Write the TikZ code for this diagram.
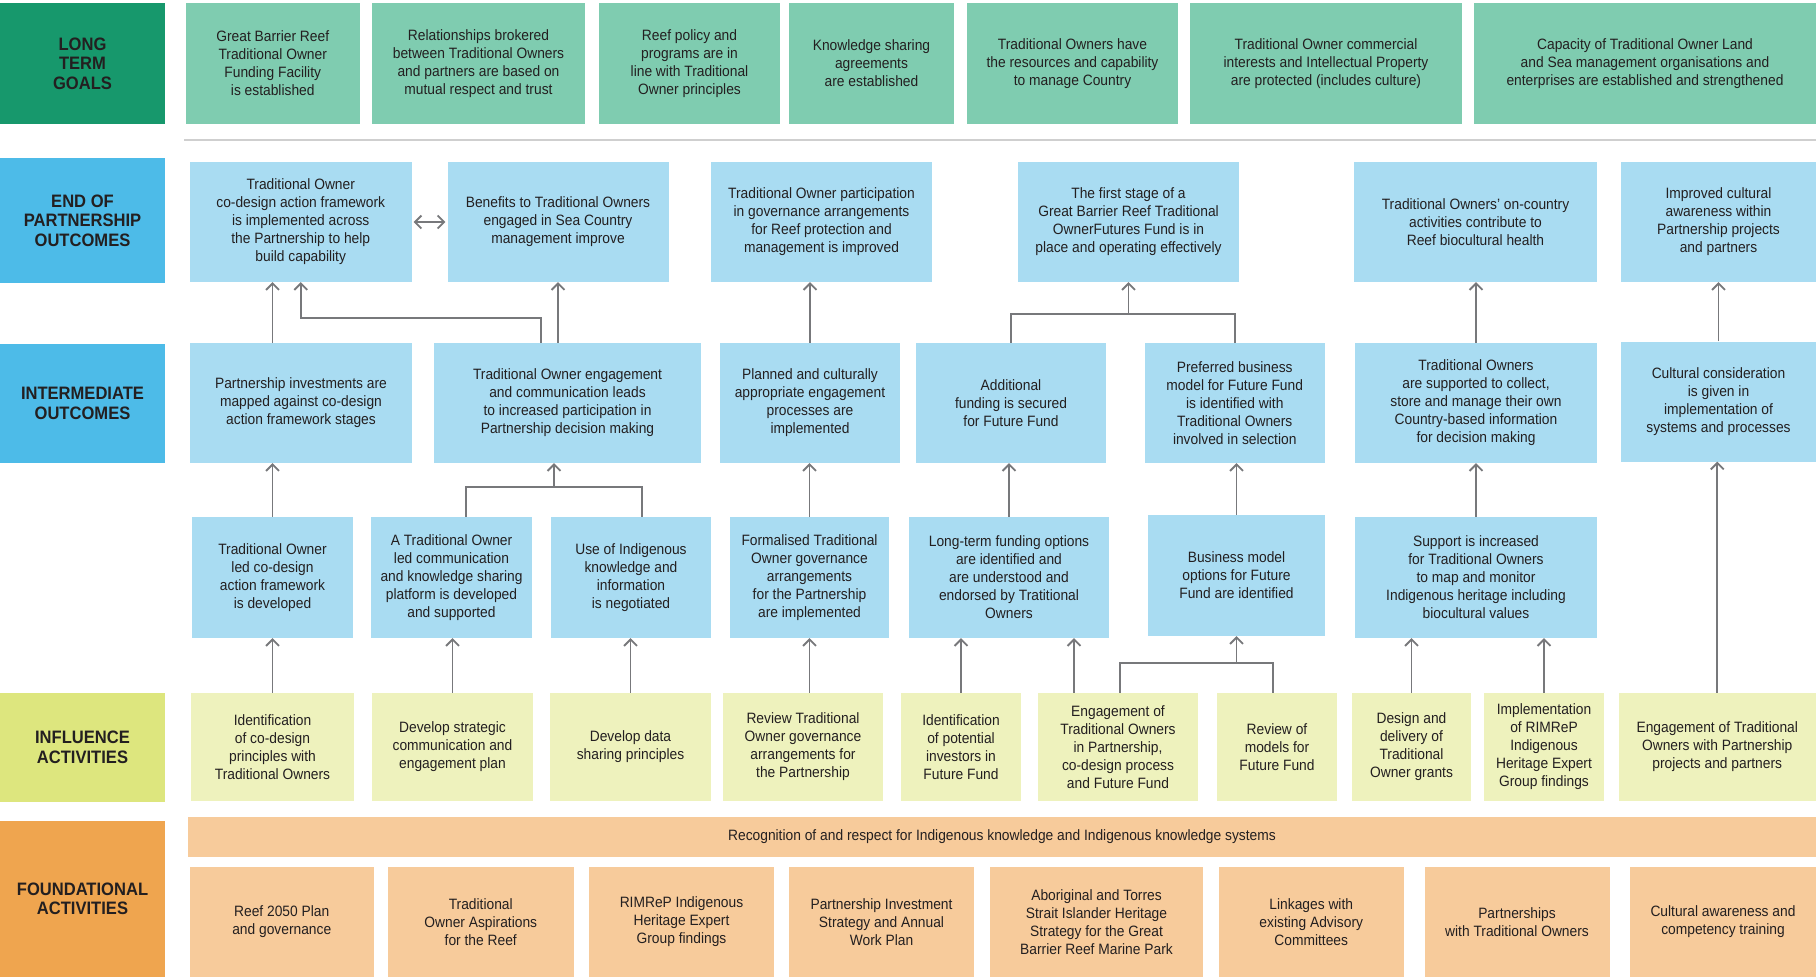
\documentclass[tikz,border=0pt]{standalone}
\usepackage{fontspec}
\setmainfont{Liberation Sans}[FakeStretch=0.92]
\usetikzlibrary{arrows.meta}
\definecolor{goaldark}{HTML}{17986C}
\definecolor{goalgreen}{HTML}{7FCCB0}
\definecolor{labelblue}{HTML}{4DBBE8}
\definecolor{outblue}{HTML}{A9DCF2}
\definecolor{labelyellow}{HTML}{DDE67E}
\definecolor{actyellow}{HTML}{EEF2BD}
\definecolor{labelorange}{HTML}{EFA54F}
\definecolor{foundpeach}{HTML}{F7CB9B}
\definecolor{inkdark}{HTML}{231F20}
\definecolor{linkgray}{HTML}{77787B}
\definecolor{rulegray}{HTML}{CFCFCF}

\begin{document}
\begin{tikzpicture}[x=1pt, y=-1pt,
    box/.style={inner sep=0pt, align=center, text=inkdark, font=\fontsize{15}{18}\selectfont},
    rowlabel/.style={box, minimum width=165pt, font=\bfseries\fontsize{18}{19.5}\selectfont},
    goal/.style={box, fill=goalgreen, minimum height=121pt},
    endout/.style={box, fill=outblue, minimum height=120pt},
    midout/.style={box, fill=outblue, minimum height=120pt},
    early/.style={box, fill=outblue, minimum height=121pt},
    influence/.style={box, fill=actyellow, minimum height=108pt},
    found/.style={box, fill=foundpeach, minimum height=110pt},
    link/.style={draw=linkgray, line width=1.9pt},
    arr/.style={link, -{Straight Barb[length=6.5pt, width=13pt, line width=1.8pt]}},
    arrboth/.style={link, {Straight Barb[length=6.5pt, width=13pt, line width=1.8pt]}-{Straight Barb[length=6.5pt, width=13pt, line width=1.8pt]}}]
    \useasboundingbox (0,0) rectangle (1816,977);

    % row labels
    \node[rowlabel, fill=goaldark, minimum height=121pt] (lgoals) at (82.5,63.5) {LONG\\TERM\\GOALS};
    \node[rowlabel, fill=labelblue, minimum height=125pt] (lend) at (82.5,220.5) {END OF\\PARTNERSHIP\\OUTCOMES};
    \node[rowlabel, fill=labelblue, minimum height=119pt] (lmid) at (82.5,403.5) {INTERMEDIATE\\OUTCOMES};
    \node[rowlabel, fill=labelyellow, minimum height=109pt] (linf) at (82.5,747.5) {INFLUENCE\\ACTIVITIES};
    \node[rowlabel, fill=labelorange, minimum height=156pt] (lfound) at (82.5,899) {FOUNDATIONAL\\ACTIVITIES};

    % long term goals
    \node[goal, minimum width=174.5pt] (g1) at (272.75,63.5) {Great Barrier Reef\\Traditional Owner\\Funding Facility\\is established};
    \node[goal, minimum width=213pt] (g2) at (478.5,63.5) {Relationships brokered\\between Traditional Owners\\and partners are based on\\mutual respect and trust};
    \node[goal, minimum width=181pt] (g3) at (689.5,63.5) {Reef policy and\\programs are in\\line with Traditional\\Owner principles};
    \node[goal, minimum width=165pt] (g4) at (871.5,63.5) {Knowledge sharing\\agreements\\are established};
    \node[goal, minimum width=211pt] (g5) at (1072.5,63.5) {Traditional Owners have\\the resources and capability\\to manage Country};
    \node[goal, minimum width=272pt] (g6) at (1326,63.5) {Traditional Owner commercial\\interests and Intellectual Property\\are protected (includes culture)};
    \node[goal, minimum width=342pt] (g7) at (1645,63.5) {Capacity of Traditional Owner Land\\and Sea management organisations and\\enterprises are established and strengthened};

    \draw[rulegray, line width=2.5pt] (184,140) -- (1816,140);

    % end of partnership outcomes
    \node[endout, minimum width=221.5pt] (e1) at (300.75,222) {Traditional Owner\\co-design action framework\\is implemented across\\the Partnership to help\\build capability};
    \node[endout, minimum width=221pt] (e2) at (558,222) {Benefits to Traditional Owners\\engaged in Sea Country\\management improve};
    \node[endout, minimum width=221pt] (e3) at (821.5,222) {Traditional Owner participation\\in governance arrangements\\for Reef protection and\\management is improved};
    \node[endout, minimum width=221pt] (e4) at (1128.5,222) {The first stage of a\\Great Barrier Reef Traditional\\OwnerFutures Fund is in\\place and operating effectively};
    \node[endout, minimum width=243pt] (e5) at (1475.5,222) {Traditional Owners’ on-country\\activities contribute to\\Reef biocultural health};
    \node[endout, minimum width=195pt] (e6) at (1718.5,222) {Improved cultural\\awareness within\\Partnership projects\\and partners};

    % intermediate outcomes
    \node[midout, minimum width=222pt] (m1) at (301,403) {Partnership investments are\\mapped against co-design\\action framework stages};
    \node[midout, minimum width=267pt] (m2) at (567.5,403) {Traditional Owner engagement\\and communication leads\\to increased participation in\\Partnership decision making};
    \node[midout, minimum width=180pt] (m3) at (810,403) {Planned and culturally\\appropriate engagement\\processes are\\implemented};
    \node[midout, minimum width=190pt] (m4) at (1011,403) {Additional\\funding is secured\\for Future Fund};
    \node[midout, minimum width=180.5pt] (m5) at (1234.75,403) {Preferred business\\model for Future Fund\\is identified with\\Traditional Owners\\involved in selection};
    \node[midout, minimum width=242pt] (m6) at (1476,403) {Traditional Owners\\are supported to collect,\\store and manage their own\\Country-based information\\for decision making};
    \node[midout, minimum width=195pt] (m7) at (1718.5,401.5) {Cultural consideration\\is given in\\implementation of\\systems and processes};

    % early outcomes
    \node[early, minimum width=161pt] (n1) at (272.5,577.5) {Traditional Owner\\led co-design\\action framework\\is developed};
    \node[early, minimum width=161pt] (n2) at (451.5,577.5) {A Traditional Owner\\led communication\\and knowledge sharing\\platform is developed\\and supported};
    \node[early, minimum width=160pt] (n3) at (631,577.5) {Use of Indigenous\\knowledge and\\information\\is negotiated};
    \node[early, minimum width=159pt] (n4) at (809.5,577.5) {Formalised Traditional\\Owner governance\\arrangements\\for the Partnership\\are implemented};
    \node[early, minimum width=200pt] (n5) at (1009,577.5) {Long-term funding options\\are identified and\\are understood and\\endorsed by Tratitional\\Owners};
    \node[early, minimum width=177pt] (n6) at (1236.5,575.5) {Business model\\options for Future\\Fund are identified};
    \node[early, minimum width=242pt] (n7) at (1476,577.5) {Support is increased\\for Traditional Owners\\to map and monitor\\Indigenous heritage including\\biocultural values};

    % influence activities
    \node[influence, minimum width=163pt] (i1) at (272.5,747) {Identification\\of co-design\\principles with\\Traditional Owners};
    \node[influence, minimum width=161pt] (i2) at (452.5,747) {Develop strategic\\communication and\\engagement plan};
    \node[influence, minimum width=161pt] (i3) at (630.5,747) {Develop data\\sharing principles};
    \node[influence, minimum width=160pt] (i4) at (803,747) {Review Traditional\\Owner governance\\arrangements for\\the Partnership};
    \node[influence, minimum width=120pt] (i5) at (961,747) {Identification\\of potential\\investors in\\Future Fund};
    \node[influence, minimum width=160pt] (i6) at (1118,747) {Engagement of\\Traditional Owners\\in Partnership,\\co-design process\\and Future Fund};
    \node[influence, minimum width=120pt] (i7) at (1277,747) {Review of\\models for\\Future Fund};
    \node[influence, minimum width=119pt] (i8) at (1411.5,747) {Design and\\delivery of\\Traditional\\Owner grants};
    \node[influence, minimum width=120pt] (i9) at (1544,747) {Implementation\\of RIMReP\\Indigenous\\Heritage Expert\\Group findings};
    \node[influence, minimum width=197.5pt] (i10) at (1717.25,747) {Engagement of Traditional\\Owners with Partnership\\projects and partners};

    % foundational activities
    \node[box, fill=foundpeach, minimum width=1628pt, minimum height=40pt] (band) at (1002,837) {Recognition of and respect for Indigenous knowledge and Indigenous knowledge systems};
    \node[found, minimum width=184.5pt] (f1) at (281.75,922) {Reef 2050 Plan\\and governance};
    \node[found, minimum width=185.5pt] (f2) at (480.75,922) {Traditional\\Owner Aspirations\\for the Reef};
    \node[found, minimum width=185pt] (f3) at (681.5,922) {RIMReP Indigenous\\Heritage Expert\\Group findings};
    \node[found, minimum width=185pt] (f4) at (881.5,922) {Partnership Investment\\Strategy and Annual\\Work Plan};
    \node[found, minimum width=213pt] (f5) at (1096.5,922) {Aboriginal and Torres\\Strait Islander Heritage\\Strategy for the Great\\Barrier Reef Marine Park};
    \node[found, minimum width=185.5pt] (f6) at (1311.25,922) {Linkages with\\existing Advisory\\Committees};
    \node[found, minimum width=185pt] (f7) at (1517,922) {Partnerships\\with Traditional Owners};
    \node[found, minimum width=186pt] (f8) at (1723,922) {Cultural awareness and\\competency training};

    % bend points
    \coordinate (k1) at (541,318);
    \coordinate (k2) at (1011,314);
    \coordinate (k3a) at (466,487);
    \coordinate (k3b) at (642,487);
    \coordinate (k3) at (554,487);
    \coordinate (k4) at (1074,747);
    \coordinate (k5a) at (1120,663);
    \coordinate (k5b) at (1273,663);

    % intermediate to end of partnership
    \draw[arrboth] ([xshift=2pt]e1.east) -- ([xshift=-2pt]e2.west);
    \draw[arr] (m1.north -| n1.north) -- (e1.south -| n1.north);
    \draw[arr] (m2.north -| k1) -- (k1) -- (k1 -| e1.south) -- (e1.south);
    \draw[arr] (m2.north -| e2.south) -- (e2.south);
    \draw[arr] (m3.north) -- (m3.north |- e3.south);
    \draw[link] (m4.north) -- (k2) -- (k2 -| m5.north) -- (m5.north);
    \draw[arr] (e4.south |- k2) -- (e4.south);
    \draw[arr] (m6.north) -- (m6.north |- e5.south);
    \draw[arr] (m7.north) -- (m7.north |- e6.south);

    % early to intermediate
    \draw[arr] (n1.north) -- (n1.north |- m1.south);
    \draw[link] (n2.north -| k3a) -- (k3a) -- (k3b) -- (n3.north -| k3b);
    \draw[arr] (k3) -- (k3 |- m2.south);
    \draw[arr] (n4.north) -- (n4.north |- m3.south);
    \draw[arr] (n5.north) -- (n5.north |- m4.south);
    \draw[arr] (n6.north) -- (n6.north |- m5.south);
    \draw[arr] (n7.north) -- (n7.north |- m6.south);

    % influence to early
    \draw[arr] (i1.north) -- (i1.north |- n1.south);
    \draw[arr] (i2.north) -- (i2.north |- n2.south);
    \draw[arr] (i3.north) -- (i3.north |- n3.south);
    \draw[arr] (i4.north -| n4.south) -- (n4.south);
    \draw[arr] (i5.north) -- (i5.north |- n5.south);
    \draw[arr] (k4 |- i6.north) -- (k4 |- n5.south);
    \draw[link] (k5a |- i6.north) -- (k5a) -- (k5b) -- (k5b |- i7.north);
    \draw[arr] (n6.south |- k5a) -- (n6.south);
    \draw[arr] (i8.north) -- (i8.north |- n7.south);
    \draw[arr] (i9.north) -- (i9.north |- n7.south);
    \draw[arr] (i10.north) -- (i10.north |- m7.south);
\end{tikzpicture}
\end{document}
